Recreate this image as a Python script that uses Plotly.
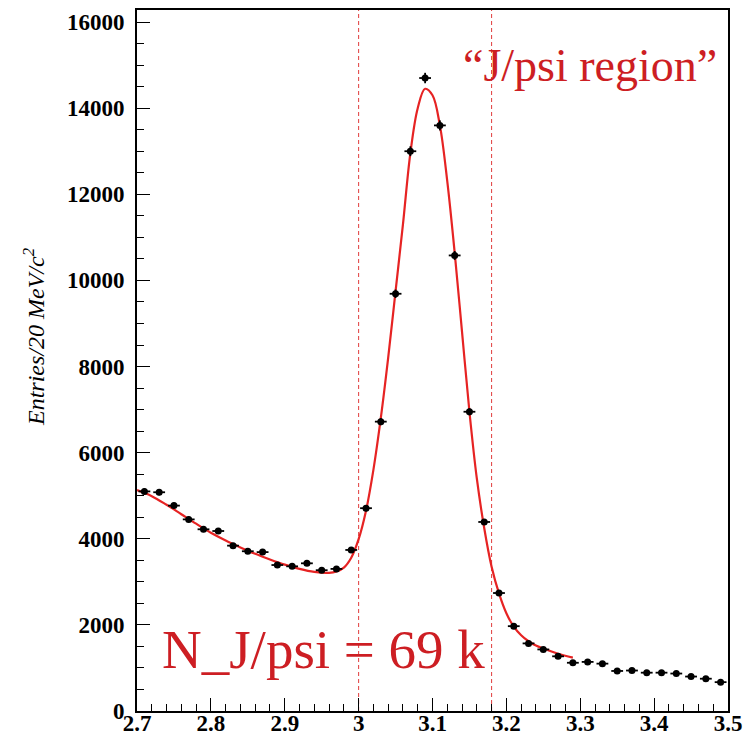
import plotly.graph_objects as go

# Data points (bin centres, 20 MeV bins)
mass = [2.71, 2.73, 2.75, 2.77, 2.79, 2.81, 2.83, 2.85, 2.87, 2.89,
        2.91, 2.93, 2.95, 2.97, 2.99, 3.01, 3.03, 3.05, 3.07, 3.09,
        3.11, 3.13, 3.15, 3.17, 3.19, 3.21, 3.23, 3.25, 3.27, 3.29,
        3.31, 3.33, 3.35, 3.37, 3.39, 3.41, 3.43, 3.45, 3.47, 3.49]
entries = [5100, 5080, 4770, 4450, 4220, 4180, 3840, 3710, 3690, 3390,
           3360, 3430, 3270, 3300, 3740, 4710, 6720, 9690, 13000, 14700,
           13600, 10580, 6950, 4390, 2740, 1970, 1570, 1430, 1270, 1120,
           1140, 1100, 930, 940, 890, 890, 870, 800, 750, 670]

# Fit curve
fit_x = [2.70, 2.72, 2.74, 2.76, 2.78, 2.80, 2.82, 2.84, 2.86, 2.88,
         2.90, 2.92, 2.94, 2.96, 2.97, 2.98, 2.99, 3.00, 3.01, 3.02,
         3.03, 3.04, 3.05, 3.06, 3.07, 3.08, 3.09, 3.10, 3.11, 3.12,
         3.13, 3.14, 3.15, 3.16, 3.17, 3.18, 3.19, 3.20, 3.21, 3.22,
         3.23, 3.24, 3.25, 3.27, 3.29]
fit_y = [5130, 4990, 4790, 4570, 4350, 4140, 3960, 3800, 3650, 3520,
         3400, 3300, 3230, 3210, 3240, 3330, 3560, 3990, 4650, 5600,
         6800, 8200, 9750, 11300, 12950, 14000, 14450, 14300, 13600, 12300,
         10650, 8800, 6950, 5400, 4250, 3350, 2730, 2270, 1960, 1760,
         1620, 1520, 1450, 1330, 1240]

region_edges = [3.0, 3.18]

x_ticks = [2.7, 2.8, 2.9, 3.0, 3.1, 3.2, 3.3, 3.4, 3.5]
x_ticktext = ["2.7", "2.8", "2.9", "3", "3.1", "3.2", "3.3", "3.4", "3.5"]
y_ticks = [0, 2000, 4000, 6000, 8000, 10000, 12000, 14000, 16000]
y_ticktext = ["0", "2000", "4000", "6000", "8000", "10000", "12000", "14000", "16000"]

RED = "rgb(205,30,35)"
YMAX = 16280

fig = go.Figure()

for xe in region_edges:
    fig.add_trace(go.Scatter(
        x=[xe, xe], y=[0, YMAX], mode="lines",
        line=dict(color="rgb(225,60,60)", width=1, dash="4px,3px"),
        hoverinfo="skip", showlegend=False))

fig.add_trace(go.Scatter(
    x=fit_x, y=fit_y, mode="lines", line_shape="spline",
    line=dict(color="rgb(230,35,35)", width=2.2), showlegend=False))

fig.add_trace(go.Scatter(
    x=mass, y=entries, mode="markers",
    marker=dict(color="black", size=7, symbol="circle"),
    error_x=dict(type="constant", value=0.008, width=0, thickness=1.8, color="black"),
    error_y=dict(type="sqrt", width=0, thickness=1.8, color="black"),
    showlegend=False))

tickfont = dict(family="Liberation Serif", size=23, color="black", weight="bold")

fig.update_layout(
    width=747, height=739,
    margin=dict(l=137, r=19, t=10, b=28, autoexpand=False),
    paper_bgcolor="white", plot_bgcolor="white",
    xaxis=dict(range=[2.7, 3.5], tickvals=x_ticks, ticktext=x_ticktext,
               ticks="inside", ticklen=13, tickwidth=1, tickcolor="black",
               showline=True, linecolor="black", linewidth=2, mirror=True,
               showgrid=False, zeroline=False, automargin=False,
               tickfont=tickfont, ticklabelstandoff=-10,
               minor=dict(dtick=0.02, tick0=2.7, ticks="inside", ticklen=7, tickcolor="black", showgrid=False)),
    yaxis=dict(range=[0, YMAX], tickvals=y_ticks, ticktext=y_ticktext,
               ticks="inside", ticklen=13, tickwidth=1, tickcolor="black",
               showline=True, linecolor="black", linewidth=2, mirror=True,
               showgrid=False, zeroline=False, automargin=False,
               tickfont=tickfont, ticklabelstandoff=6,
               minor=dict(dtick=500, tick0=0, ticks="inside", ticklen=7, tickcolor="black", showgrid=False)),
    annotations=[
        dict(x=-0.174, y=8690, xref="paper", yref="y", xanchor="center", yanchor="middle",
             text="<i>Entries/20 MeV/c<sup>2</sup></i>", textangle=-90,
             showarrow=False, font=dict(family="Liberation Serif", size=24, color="black")),
        dict(x=3.313, y=15000, xref="x", yref="y", text="\u201cJ/psi region\u201d",
             showarrow=False, font=dict(family="Liberation Serif", size=46, color=RED)),
        dict(x=2.952, y=1420, xref="x", yref="y", text="N_J/psi = 69 k",
             showarrow=False, font=dict(family="Liberation Serif", size=55, color=RED)),
    ],
)

fig.write_html("out.html")
